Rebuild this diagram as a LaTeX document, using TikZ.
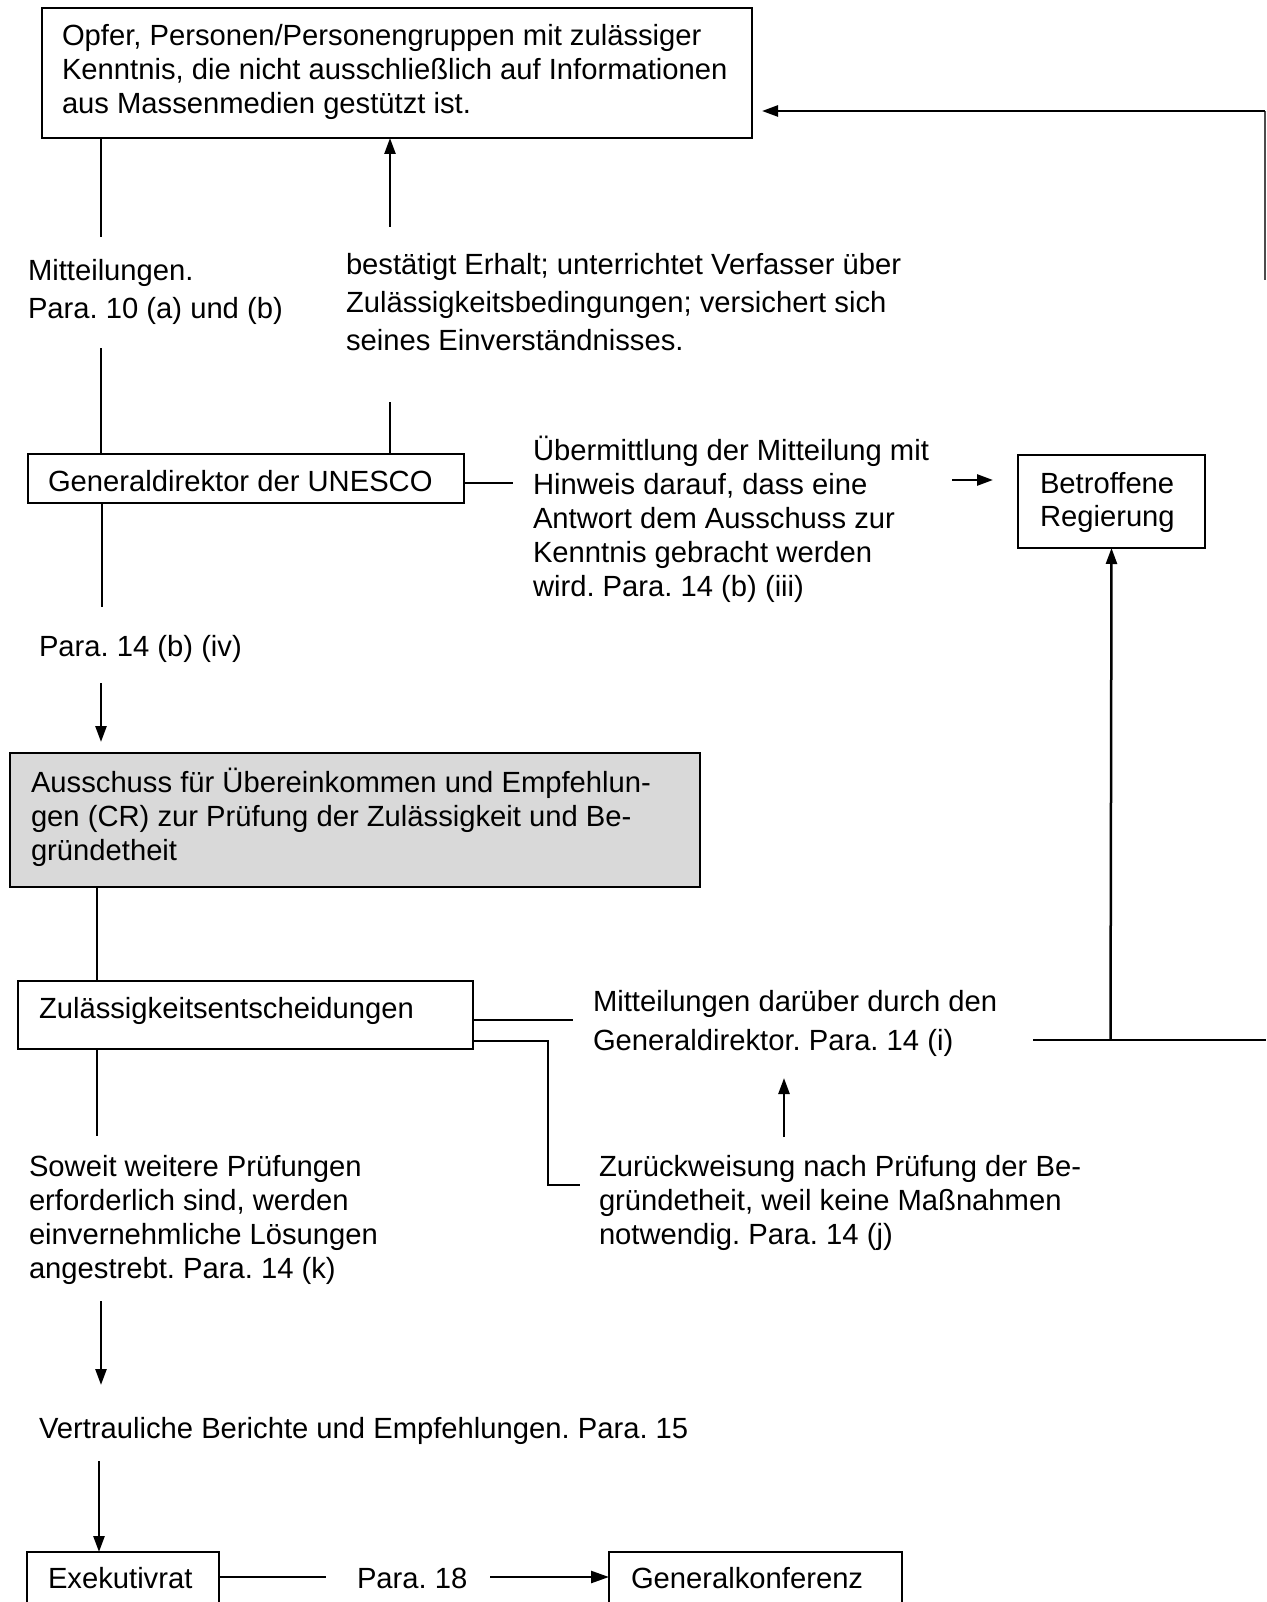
\documentclass[tikz,border=0pt]{standalone}
\usepackage{fontspec}
\setmainfont{Liberation Sans}
\usetikzlibrary{arrows.meta}
\frenchspacing
\newcommand\tstrut{\rule{0pt}{28pt}}
\tikzset{
  box/.style={draw, line width=2.7pt, anchor=north west, inner sep=0pt, outer sep=0pt},
  txt/.style={anchor=north west, inner sep=0pt, outer sep=0pt, align=left,
    font=\fontsize{29.2pt}{34pt}\selectfont},
  wide/.style={font=\fontsize{29.2pt}{38pt}\selectfont},
  conn/.style={line width=2.5pt},
  arr/.style={line width=2.5pt, -{Triangle[length=16pt,width=11pt]}},
}
\begin{document}
\begin{tikzpicture}[x=1pt,y=-1pt]
\useasboundingbox (0,0) rectangle (1266,1602);
\clip (0,0) rectangle (1266,1602);

% boxes
\node[box, minimum width=710, minimum height=130] (opfer) at (42,8) {};
\node[box, minimum width=436, minimum height=49] (unesco) at (28,454) {};
\node[box, minimum width=187, minimum height=93] (regierung) at (1018,455) {};
\node[box, fill=black!15, minimum width=690, minimum height=134] (cr) at (10,753) {};
\node[box, minimum width=455, minimum height=68] (zul) at (18,981) {};
\node[box, minimum width=192, minimum height=80] (exek) at (27,1552) {};
\node[box, minimum width=293, minimum height=80] (konf) at (609,1552) {};

% texts
\node[txt] (topt) at (62,46-28) {\tstrut Opfer, Personen/Personengruppen mit zulässiger\\Kenntnis, die nicht ausschließlich auf Informationen\\aus Massenmedien gestützt ist.};
\node[txt, wide] (mitt) at (28,281-28) {\tstrut Mitteilungen.\\Para. 10 (a) und (b)};
\node[txt, wide] (best) at (346,274-28) {\tstrut bestätigt Erhalt; unterrichtet Verfasser über\\Zulässigkeitsbedingungen; versichert sich\\seines Einverständnisses.};
\node[txt] (unescot) at (48,491-28) {\tstrut Generaldirektor der UNESCO};
\node[txt] (uebt) at (533,460-28) {\tstrut Übermittlung der Mitteilung mit\\Hinweis darauf, dass eine\\Antwort dem Ausschuss zur\\Kenntnis gebracht werden\\wird. Para. 14 (b) (iii)};
\node[txt, font=\fontsize{29.2pt}{33pt}\selectfont] (regt) at (1040,493-28) {\tstrut Betroffene\\Regierung};
\node[txt] (p14iv) at (39,656-28) {\tstrut Para. 14 (b) (iv)};
\node[txt] (crt) at (31,792-28) {\tstrut Ausschuss für Übereinkommen und Empfehlun-\\gen (CR) zur Prüfung der Zulässigkeit und Be-\\gründetheit};
\node[txt] (zult) at (39,1018-28) {\tstrut Zulässigkeitsentscheidungen};
\node[txt, font=\fontsize{29.2pt}{39pt}\selectfont] (mdt) at (593,1011-28) {\tstrut Mitteilungen darüber durch den\\Generaldirektor. Para. 14 (i)};
\node[txt] (zurt) at (599,1176-28) {\tstrut Zurückweisung nach Prüfung der Be-\\gründetheit, weil keine Maßnahmen\\notwendig. Para. 14 (j)};
\node[txt] (sowt) at (29,1176-28) {\tstrut Soweit weitere Prüfungen\\erforderlich sind, werden\\einvernehmliche Lösungen\\angestrebt. Para. 14 (k)};
\node[txt] (vert) at (39,1438-28) {\tstrut Vertrauliche Berichte und Empfehlungen. Para. 15};
\node[txt] (exekt) at (48,1588-28) {\tstrut Exekutivrat};
\node[txt] (p18) at (357,1588-28) {\tstrut Para. 18};
\node[txt] (konft) at (631,1588-28) {\tstrut Generalkonferenz};

% free ends of connectors
\coordinate (a1) at (101,237);
\coordinate (a2) at (101,348);
\coordinate (b1) at (390,227);
\coordinate (b2) at (390,402);
\coordinate (c1) at (513,483);
\coordinate (c2) at (952,480);
\coordinate (d1) at (102,607);
\coordinate (d2) at (101,683);
\coordinate (e1) at (573,1020);
\coordinate (e2) at (548,1185);
\coordinate (e3) at (580,1185);
\coordinate (f1) at (1033,1040);
\coordinate (f2) at (1266,1040);
\coordinate (g1) at (784,1137);
\coordinate (g2) at (784,1078);
\coordinate (h1) at (97,1136);
\coordinate (i1) at (101,1301);
\coordinate (i2) at (101,1385);
\coordinate (j1) at (99,1461);
\coordinate (k1) at (326,1577);
\coordinate (k2) at (490,1577);
\coordinate (r1) at (1265,280);
\coordinate (r2) at (1265,111);

% connectors
\draw[conn] (opfer.south -| a1) -- (a1);
\draw[conn] (a2) -- (unesco.north -| a2);
\draw[arr] (b1) -- (opfer.south -| b1);
\draw[conn] (b2) -- (unesco.north -| b2);
\draw[conn] (unesco.east |- c1) -- (c1);
\draw[arr] (c2) -- ++(41,0);
\draw[conn] (unesco.south -| d1) -- (d1);
\draw[arr] (d2) -- ++(0,59);
\draw[conn] (cr.south -| 97,0) -- (zul.north -| 97,0);
\draw[conn] (zul.east |- e1) -- (e1);
\draw[conn] (zul.east |- 0,1041) -| (e2) -- (e3);
\draw[conn] (f1) -- (f2);
\draw[arr] (f1 -| regierung.south) ++(-1,0) -- (regierung.south);
\draw[arr] (g1) -- (g2);
\draw[conn] (zul.south -| h1) -- (h1);
\draw[arr] (i1) -- (i2);
\draw[arr] (j1) -- (exek.north -| j1);
\draw[conn] (exek.east |- k1) -- (k1);
\draw[arr, -{Triangle[length=18pt,width=12pt]}] (k2) -- (konf.west |- k2);
\draw[conn, black!70] (r1) -- (r2);
\draw[arr] (r2) -- ([xshift=10pt]opfer.east |- r2);
\end{tikzpicture}
\end{document}
